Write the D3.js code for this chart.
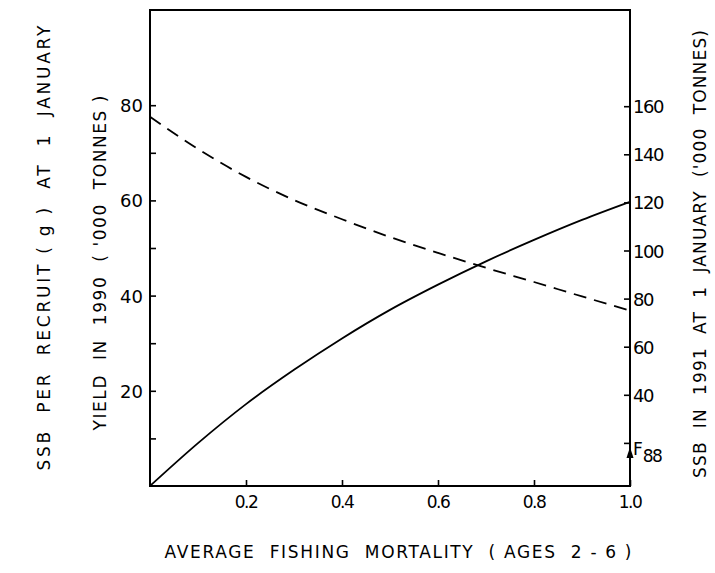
<!DOCTYPE html>
<html>
<head>
<meta charset="utf-8">
<script src="https://cdn.jsdelivr.net/npm/d3@7"></script>
<style>
  html, body { margin: 0; padding: 0; background: #fff; }
  svg { display: block; }
  text { font-family: "DejaVu Sans", "Liberation Sans", sans-serif; fill: #000; }
</style>
</head>
<body>
<svg id="chart" width="715" height="573"></svg>
<script>
// Average fishing mortality (ages 2-6)
const fishingMortality = [0, 0.1, 0.2, 0.3, 0.4, 0.5, 0.6, 0.7, 0.8, 0.9, 1.0];
// Yield in 1990 ('000 tonnes), left axis
const yield1990 = [0, 9.0, 17.2, 24.4, 31.0, 37.0, 42.3, 47.2, 51.7, 55.9, 59.7];
// SSB in 1991 at 1 January ('000 tonnes), right axis
const ssb1991 = [155.6, 142.2, 130.6, 121.0, 113.0, 105.6, 99.0, 92.8, 86.9, 80.9, 75.0];

const xTicks = [0.2, 0.4, 0.6, 0.8, 1.0];
const leftTicks = [10, 20, 30, 40, 50, 60, 70, 80];
const leftLabels = [20, 40, 60, 80];
const rightTicks = [20, 40, 60, 80, 100, 120, 140, 160];
const rightLabels = [40, 60, 80, 100, 120, 140, 160];
const fReference = { label: "F", sub: "88", value: 1.0, at: 20 };

const svg = d3.select("#chart");
const m = { left: 150, right: 630, top: 10, bottom: 486 };

const x = d3.scaleLinear().domain([0, 1]).range([m.left, m.right]);
const yL = d3.scaleLinear().domain([0, 100]).range([m.bottom, m.top]);
const yR = d3.scaleLinear().domain([0, 200]).range([491, m.top]);

// Frame
svg.append("rect")
  .attr("x", m.left).attr("y", m.top)
  .attr("width", m.right - m.left).attr("height", m.bottom - m.top)
  .attr("fill", "none").attr("stroke", "#000").attr("stroke-width", 2);

// Axes with inward ticks
const xAxis = d3.axisTop(x).tickValues(xTicks).tickSize(6).tickFormat("");
svg.append("g").attr("transform", `translate(0,${m.bottom})`).call(xAxis)
  .call(g => g.select(".domain").remove())
  .call(g => g.selectAll("line").attr("stroke-width", 1.6));

const lAxis = d3.axisRight(yL).tickValues(leftTicks).tickSize(6).tickFormat("");
svg.append("g").attr("transform", `translate(${m.left},0)`).call(lAxis)
  .call(g => g.select(".domain").remove())
  .call(g => g.selectAll("line").attr("stroke-width", 1.6));

const rAxis = d3.axisLeft(yR).tickValues(rightTicks).tickSize(6).tickFormat("");
svg.append("g").attr("transform", `translate(${m.right},0)`).call(rAxis)
  .call(g => g.select(".domain").remove())
  .call(g => g.selectAll("line").attr("stroke-width", 1.6));

// Tick labels
svg.append("g").selectAll("text").data(xTicks).join("text")
  .attr("x", d => x(d)).attr("y", 508)
  .attr("text-anchor", "middle").attr("font-size", 17)
  .attr("letter-spacing", -1.5)
  .text(d => d.toFixed(1));

svg.append("g").selectAll("text").data(leftLabels).join("text")
  .attr("x", 143).attr("y", d => yL(d) + 7)
  .attr("text-anchor", "end").attr("font-size", 18)
  .text(d => d);

svg.append("g").selectAll("text").data(rightLabels).join("text")
  .attr("x", 633).attr("y", d => yR(d) + 7)
  .attr("text-anchor", "start").attr("font-size", 18)
  .attr("letter-spacing", -1.5)
  .text(d => d);

// Curves
const line = (ys, scale) => d3.line()
  .x((d, i) => x(fishingMortality[i]))
  .y(d => scale(d))
  .curve(d3.curveMonotoneX)(ys);

svg.append("path").attr("d", line(yield1990, yL))
  .attr("fill", "none").attr("stroke", "#000").attr("stroke-width", 1.8);

svg.append("path").attr("d", line(ssb1991, yR))
  .attr("fill", "none").attr("stroke", "#000").attr("stroke-width", 1.8)
  .attr("stroke-dasharray", "13,8");

// F88 marker on the right axis
const fx = x(fReference.value), fy = yR(fReference.at);
svg.append("path")
  .attr("d", `M${fx},${fy + 4} L${fx - 3.5},${fy + 15} L${fx + 3.5},${fy + 15} Z`)
  .attr("fill", "#000");
const fl = svg.append("text").attr("x", fx + 3).attr("y", fy + 12).attr("font-size", 17);
fl.append("tspan").text(fReference.label);
fl.append("tspan").attr("dy", 7).attr("letter-spacing", -1.5).text(fReference.sub);

// Axis titles
function title(txt, tx, ty, rot, len, size) {
  svg.append("text")
    .attr("transform", `translate(${tx},${ty}) rotate(${rot})`)
    .attr("text-anchor", "middle").attr("font-size", size)
    .attr("xml:space", "preserve")
    .attr("textLength", len).attr("lengthAdjust", "spacing")
    .text(txt);
}
title("SSB  PER  RECRUIT ( g )  AT  1  JANUARY", 50, 248, -90, 445, 17);
title("YIELD  IN  1990  ( '000  TONNES )", 106, 263, -90, 335, 17);
title("SSB  IN  1991  AT  1  JANUARY  ('000  TONNES)", 706, 254, -90, 448, 17);
title("AVERAGE  FISHING  MORTALITY  ( AGES  2 - 6 )", 398, 558, 0, 467, 17);
</script>
</body>
</html>
